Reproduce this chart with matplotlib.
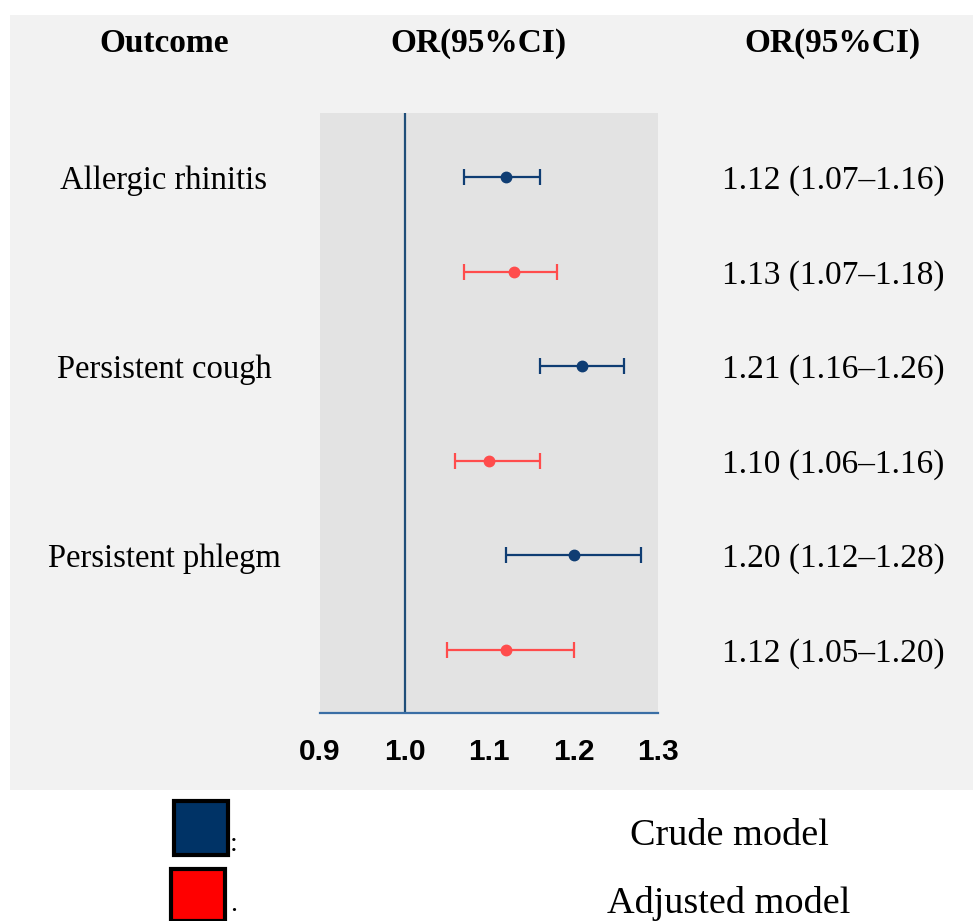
import matplotlib
matplotlib.use("Agg")
from matplotlib import pyplot as plt
from matplotlib.patches import Rectangle
import matplotlib.transforms as mtransforms

outcomes = ["Allergic rhinitis", "Persistent cough", "Persistent phlegm"]
models = ["Crude model", "Adjusted model"]
or_values = [1.12, 1.13, 1.21, 1.10, 1.20, 1.12]
ci_low = [1.07, 1.07, 1.16, 1.06, 1.12, 1.05]
ci_high = [1.16, 1.18, 1.26, 1.16, 1.28, 1.20]
x_ticks = [0.9, 1.0, 1.1, 1.2, 1.3]

W, H = 973, 921
CRUDE = "#0f3d73"
ADJ = "#ff4c4c"
SERIF = "Liberation Serif"


def fx(px):
    return px / W


def fy(py):
    return 1 - py / H


fig = plt.figure(figsize=(W / 100, H / 100), dpi=100)
fig.patch.set_facecolor("white")
fig.patches.append(Rectangle((fx(10), fy(790)), 1 - fx(10), fy(15) - fy(790),
                             transform=fig.transFigure, facecolor="#f2f2f2",
                             edgecolor="none", zorder=-10))

ax = fig.add_axes([fx(320), fy(713), fx(658) - fx(320), fy(113) - fy(713)])
ax.set_facecolor("#e3e3e3")

for i in range(len(or_values)):
    color = CRUDE if i % 2 == 0 else ADJ
    ax.errorbar(or_values[i], i,
                xerr=[[or_values[i] - ci_low[i]], [ci_high[i] - or_values[i]]],
                fmt="o", color=color, ecolor=color, markersize=7.5,
                elinewidth=1.6, capsize=6, capthick=1.6, zorder=3)

ax.axvline(1.0, color="#1f4e79", linewidth=1.6, zorder=2)
ax.set_xlim(0.9, 1.3)
ax.set_ylim(len(or_values) - 0.33, -0.68)
ax.set_xticks(x_ticks)
ax.set_xticklabels([f"{t:.1f}" for t in x_ticks], family="Liberation Sans",
                   fontweight="bold", fontsize=21.5)
ax.tick_params(axis="x", length=0, pad=18)
ax.set_yticks([])
for side in ["top", "left", "right"]:
    ax.spines[side].set_visible(False)
ax.spines["bottom"].set_color("#3a6ea5")
ax.spines["bottom"].set_linewidth(1.6)

# headers
for x, head in [(164, "Outcome"), (478, "OR(95%CI)"), (832, "OR(95%CI)")]:
    fig.text(fx(x), fy(52), head, family=SERIF, fontweight="bold",
             fontsize=24, ha="center", va="baseline")

trans = mtransforms.blended_transform_factory(fig.transFigure, ax.transData)
row_trans = mtransforms.offset_copy(trans, fig=fig, y=-12, units="dots")
for k, name in enumerate(outcomes):
    fig.text(fx(164), 2 * k, name, transform=row_trans, family=SERIF,
             fontsize=23.5, ha="center", va="baseline")

for i in range(len(or_values)):
    label = f"{or_values[i]:.2f} ({ci_low[i]:.2f}\u2013{ci_high[i]:.2f})"
    fig.text(fx(833), i, label, transform=row_trans, family=SERIF,
             fontsize=24, ha="center", va="baseline")

# legend
fig.patches.append(Rectangle((fx(174), fy(855)), fx(54), fy(801) - fy(855),
                             transform=fig.transFigure, facecolor="#003366",
                             edgecolor="black", linewidth=3, zorder=3))
fig.patches.append(Rectangle((fx(171), fy(921)), fx(54), fy(869) - fy(921),
                             transform=fig.transFigure, facecolor="#ff0000",
                             edgecolor="black", linewidth=3, zorder=3))
fig.text(fx(230), fy(857), ":", family=SERIF, fontsize=20, ha="left", va="bottom")
fig.text(fx(230), fy(917), ".", family=SERIF, fontsize=20, ha="left", va="bottom")
fig.text(fx(729), fy(836), models[0], family=SERIF, fontsize=27.5,
         ha="center", va="center")
fig.text(fx(729), fy(903), models[1], family=SERIF, fontsize=27.5,
         ha="center", va="center")

fig.savefig("out.png", dpi=100)
